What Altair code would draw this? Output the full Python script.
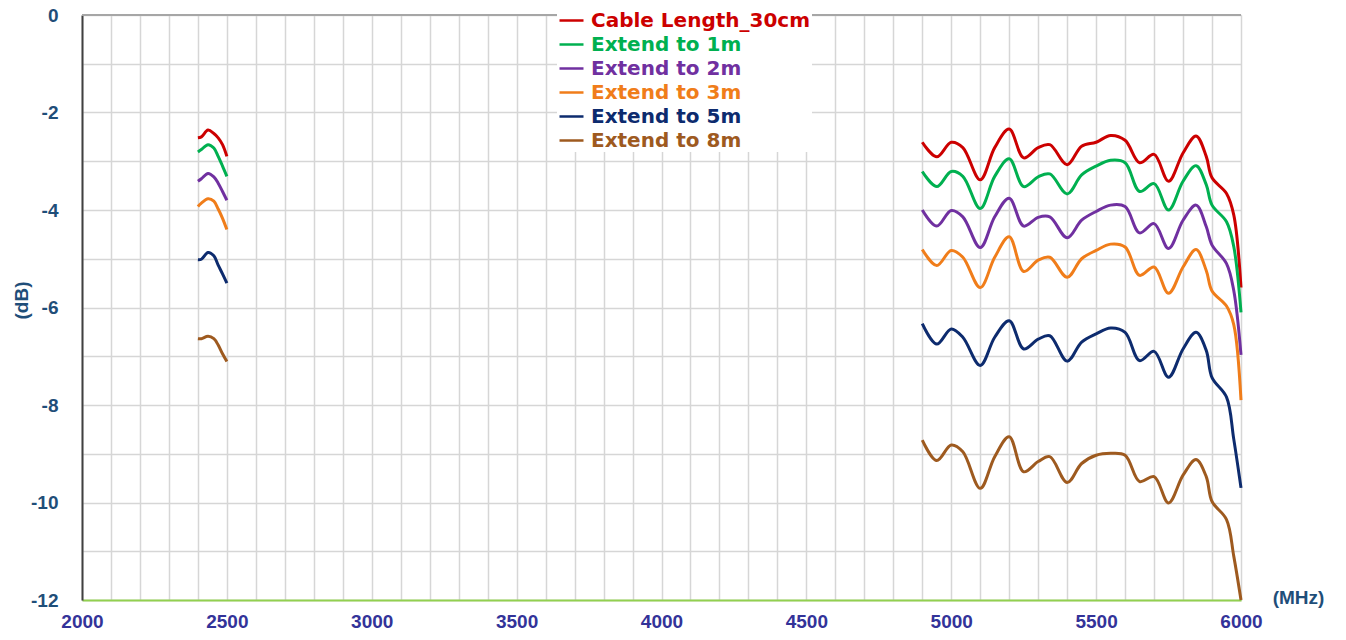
import altair as alt
import pandas as pd

series = ["Cable Length_30cm", "Extend to 1m", "Extend to 2m", "Extend to 3m", "Extend to 5m", "Extend to 8m"]
colors = ["#CC0000", "#00B050", "#7030A0", "#F07D1A", "#0D2B6E", "#9E5A1F"]

freq_24 = [2400, 2412, 2435, 2455, 2470, 2485, 2500]
freq_5 = [4900, 4950, 5000, 5040, 5100, 5150, 5200, 5250, 5300, 5340, 5400, 5450, 5500,
          5550, 5600, 5650, 5700, 5750, 5800, 5845, 5880, 5900, 5950, 5975, 6000]

c30_24 = [-2.52, -2.50, -2.36, -2.43, -2.52, -2.66, -2.90]
m1_24 = [-2.81, -2.76, -2.66, -2.73, -2.90, -3.10, -3.31]
m2_24 = [-3.41, -3.36, -3.25, -3.32, -3.45, -3.62, -3.80]
m3_24 = [-3.93, -3.86, -3.77, -3.82, -3.98, -4.17, -4.40]
m5_24 = [-5.02, -5.01, -4.87, -4.94, -5.13, -5.31, -5.50]
m8_24 = [-6.64, -6.64, -6.59, -6.64, -6.77, -6.95, -7.11]

c30_5 = [-2.61, -2.91, -2.61, -2.72, -3.38, -2.72, -2.34, -2.93, -2.72, -2.66, -3.07, -2.69, -2.61,
         -2.47, -2.57, -3.03, -2.86, -3.41, -2.83, -2.48, -2.90, -3.34, -3.66, -4.10, -5.59]
m1_5 = [-3.21, -3.52, -3.21, -3.31, -3.97, -3.31, -2.95, -3.52, -3.32, -3.26, -3.67, -3.28, -3.10,
        -2.98, -3.03, -3.62, -3.46, -4.00, -3.41, -3.09, -3.48, -3.90, -4.24, -4.75, -6.10]
m2_5 = [-4.00, -4.33, -4.01, -4.14, -4.77, -4.14, -3.76, -4.33, -4.15, -4.14, -4.57, -4.21, -4.03,
        -3.90, -3.93, -4.47, -4.28, -4.79, -4.21, -3.90, -4.34, -4.72, -5.10, -5.65, -6.97]
m3_5 = [-4.81, -5.14, -4.83, -4.97, -5.59, -4.97, -4.55, -5.26, -5.03, -4.97, -5.38, -5.00, -4.83,
        -4.70, -4.76, -5.34, -5.17, -5.71, -5.17, -4.81, -5.24, -5.66, -5.97, -6.35, -7.90]
m5_5 = [-6.33, -6.75, -6.44, -6.61, -7.19, -6.61, -6.27, -6.85, -6.65, -6.58, -7.10, -6.71, -6.54,
        -6.42, -6.51, -7.09, -6.90, -7.43, -6.85, -6.51, -6.88, -7.44, -7.84, -8.70, -9.70]
m8_5 = [-8.72, -9.14, -8.82, -8.96, -9.71, -9.06, -8.65, -9.37, -9.16, -9.06, -9.59, -9.20, -9.03,
        -8.99, -9.03, -9.57, -9.47, -10.01, -9.44, -9.12, -9.47, -9.98, -10.35, -11.10, -12.00]

band_24 = [c30_24, m1_24, m2_24, m3_24, m5_24, m8_24]
band_5 = [c30_5, m1_5, m2_5, m3_5, m5_5, m8_5]

rows = []
for name, v24, v5 in zip(series, band_24, band_5):
    for f, v in zip(freq_24, v24):
        rows.append({"series": name, "band": "2.4G", "freq": f, "db": v})
    for f, v in zip(freq_5, v5):
        rows.append({"series": name, "band": "5G", "freq": f, "db": v})
df = pd.DataFrame(rows)

FONT = "Liberation Sans"
label_color_expr = " : ".join(
    f"datum.label === '{s}' ? '{c}'" for s, c in zip(series, colors)
) + " : '#000000'"

x_ticks = list(range(2000, 6001, 100))
y_ticks = list(range(-12, 1, 1))

lines = alt.Chart(df).mark_line(strokeWidth=3, interpolate="catmull-rom").encode(
    x=alt.X("freq:Q",
            scale=alt.Scale(domain=[2000, 6000], nice=False, zero=False),
            axis=alt.Axis(
                values=x_ticks,
                labelExpr="datum.value % 500 === 0 ? toString(datum.value) : ''",
                title="(MHz)", titleX=1216, titleY=-3, titleAngle=0,
                titleAlign="center", titleBaseline="middle",
                titleFont=FONT, titleFontSize=19, titleFontWeight="bold", titleColor="#1F4E79",
                labelFont=FONT, labelFontSize=19, labelFontWeight="bold", labelColor="#333399",
                labelPadding=12, labelOverlap=False, labelFlush=False,
                ticks=False, tickSize=0,
                domainColor="#92D050", domainWidth=2,
                grid=True, gridColor="#D6D6D6", gridWidth=1.5,
            )),
    y=alt.Y("db:Q",
            scale=alt.Scale(domain=[-12, 0], nice=False, zero=False),
            axis=alt.Axis(
                values=y_ticks,
                labelExpr="datum.value % 2 === 0 ? toString(datum.value) : ''",
                title="(dB)", titleX=-61, titleY=285, titleAngle=270,
                titleAlign="center", titleBaseline="middle",
                titleFont=FONT, titleFontSize=19, titleFontWeight="bold", titleColor="#1F4E79",
                labelFont=FONT, labelFontSize=19, labelFontWeight="bold", labelColor="#1F4E79",
                labelPadding=24, labelOverlap=False,
                ticks=False, tickSize=0,
                domainColor="#404040", domainWidth=2,
                grid=True, gridColor="#D6D6D6", gridWidth=1.5,
            )),
    color=alt.Color("series:N",
                    scale=alt.Scale(domain=series, range=colors),
                    sort=series,
                    legend=alt.Legend(
                        title=None, orient="none", legendX=475, legendY=-9,
                        fillColor="white", padding=1,
                        symbolType="stroke", symbolSize=576, symbolStrokeWidth=2.5,
                        labelFont="DejaVu Sans", labelFontSize=20, labelFontWeight="bold",
                        labelColor=alt.ExprRef(expr=label_color_expr),
                        rowPadding=0, labelOffset=6, labelLimit=400,
                    )),
    detail="band:N",
)

top_rule = alt.Chart(df).mark_rule(color="#A6A6A6", strokeWidth=1.5).encode(
    y=alt.datum(0)
)

chart = alt.layer(top_rule, lines).properties(
    width=1159, height=585,
    autosize=alt.AutoSizeParams(type="none"),
    padding={"left": 74, "top": 7, "right": 97, "bottom": 32},
).configure_view(stroke=None).configure(background="white")

chart.save("out.html", embed_options={"renderer": "svg", "actions": False})
